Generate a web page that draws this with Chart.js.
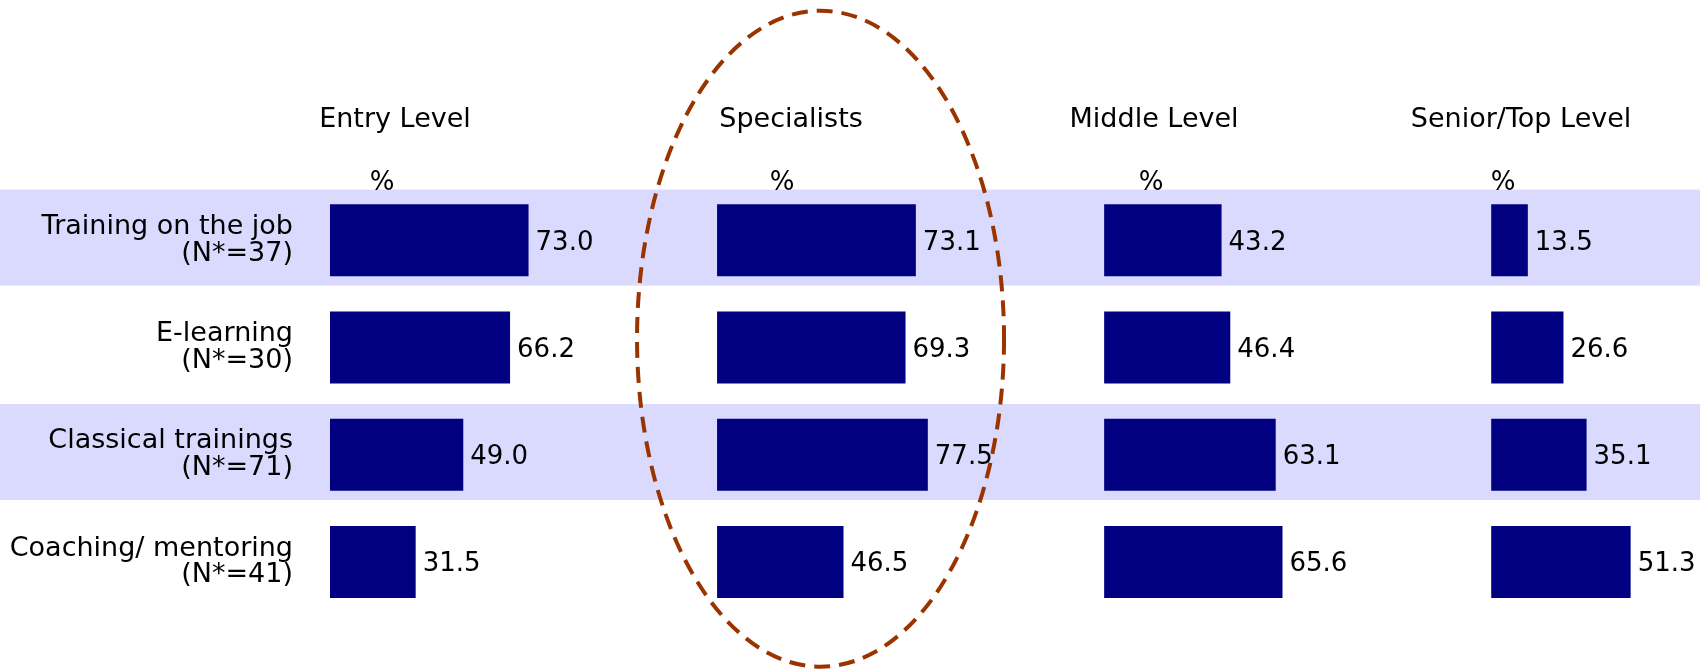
<!DOCTYPE html>
<html>
<head>
<meta charset="utf-8">
<title>Training methods by level</title>
<script src="https://cdn.jsdelivr.net/npm/chart.js@4.4.1/dist/chart.umd.min.js"></script>
<style>
  html, body { margin: 0; padding: 0; background: #fff; }
  #wrap { width: 1700px; height: 671px; }
</style>
</head>
<body>
<div id="wrap"><canvas id="chart" width="1700" height="671"></canvas></div>
<script>
const categories = [
    ['Training on the job', '(N*=37)'],
    ['E-learning', '(N*=30)'],
    ['Classical trainings', '(N*=71)'],
    ['Coaching/ mentoring', '(N*=41)']
];
const levels = ['Entry Level', 'Specialists', 'Middle Level', 'Senior/Top Level'];

const entryLevel = [73.0, 66.2, 49.0, 31.5];
const specialists = [73.1, 69.3, 77.5, 46.5];
const middleLevel = [43.2, 46.4, 63.1, 65.6];
const seniorLevel = [13.5, 26.6, 35.1, 51.3];

// each panel's value range; the last panel is cut short by the page edge
const panelMax = [142.3, 142.3, 142.3, 76.8];

const FONT = "'DejaVu Sans', Verdana, sans-serif";
const BAR = '#000080';
const BAND = 'rgb(218, 218, 255)';

const seriesList = [entryLevel, specialists, middleLevel, seniorLevel];

// light stripes behind the 1st and 3rd rows (drawn before the axis labels)
const bandsPlugin = {
    id: 'bands',
    beforeDraw(chart) {
        const { ctx, scales: { y }, width } = chart;
        ctx.save();
        ctx.fillStyle = BAND;
        [0, 2].forEach(i => {
            const c = y.getPixelForValue(i) - 2.7;
            ctx.fillRect(0, c - 48, width, 96);
        });
        ctx.restore();
    }
};

// panel headings, % markers, value labels and the highlight ring
const annotatePlugin = {
    id: 'annotate',
    afterDatasetsDraw(chart) {
        const { ctx } = chart;
        const titleShift = [65, 74, 50, 30];
        const pctShift = [52, 65, 47, 12];
        ctx.save();
        ctx.fillStyle = '#000';
        ctx.textBaseline = 'alphabetic';

        levels.forEach((name, j) => {
            const sc = chart.scales['x' + j];
            ctx.textAlign = 'center';
            ctx.font = `27px ${FONT}`;
            ctx.fillText(name, sc.left + titleShift[j], 127);
            ctx.font = `26px ${FONT}`;
            ctx.fillText('%', sc.left + pctShift[j], 190);

            const meta = chart.getDatasetMeta(j);
            ctx.textAlign = 'left';
            meta.data.forEach((bar, i) => {
                ctx.fillText(seriesList[j][i].toFixed(1), bar.x + 7, bar.y + 9.5);
            });
        });

        const sp = chart.scales.x1;
        ctx.strokeStyle = '#993300';
        ctx.lineWidth = 4;
        ctx.setLineDash([16, 9]);
        ctx.beginPath();
        ctx.ellipse(sp.left + 103.5, 338.7, 183.5, 328, 0, 0, Math.PI * 2);
        ctx.stroke();
        ctx.restore();
    }
};

const xScales = {};
panelMax.forEach((m, j) => {
    xScales['x' + j] = {
        type: 'linear',
        position: 'bottom',
        stack: 'panels',
        stackWeight: m,
        min: 0,
        max: m,
        display: false
    };
});

new Chart(document.getElementById('chart'), {
    type: 'bar',
    data: {
        labels: categories,
        datasets: seriesList.map((values, j) => ({
            label: levels[j],
            data: values,
            xAxisID: 'x' + j,
            yAxisID: 'y',
            backgroundColor: BAR,
            borderWidth: 0,
            grouped: false,
            categoryPercentage: 1,
            barPercentage: 0.672
        }))
    },
    options: {
        indexAxis: 'y',
        responsive: false,
        animation: false,
        layout: { padding: { top: 186.7, bottom: 55.5, left: 0, right: 0 } },
        plugins: {
            legend: { display: false },
            tooltip: { enabled: false }
        },
        scales: {
            ...xScales,
            y: {
                type: 'category',
                position: 'left',
                grid: { display: false, drawTicks: false },
                border: { display: false },
                ticks: {
                    color: '#000',
                    padding: 37,
                    font: { family: FONT, size: 27, lineHeight: 0.99 }
                },
                afterFit(scale) {
                    // fixed label column; the tick padding should not eat into the plot height
                    scale.width = 330;
                    scale.paddingTop = 0;
                    scale.paddingBottom = 0;
                }
            }
        }
    },
    plugins: [bandsPlugin, annotatePlugin]
});
</script>
</body>
</html>
